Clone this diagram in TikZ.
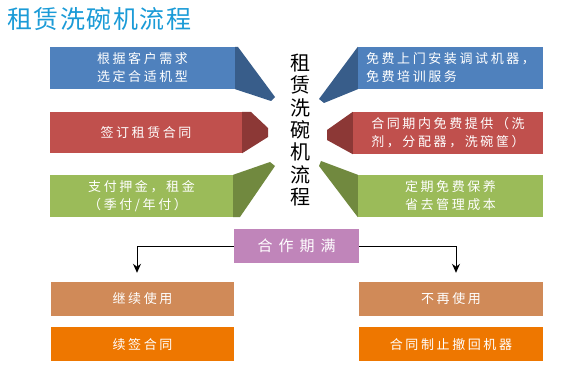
\documentclass[tikz,border=0pt]{standalone}
\usepackage{fontspec}
\setmainfont{Noto Sans CJK SC}
\newfontfamily\boxfont[LetterSpace=20]{Noto Sans CJK SC}
\newfontfamily\widefont[LetterSpace=40]{Noto Sans CJK SC}
\newfontfamily\headfont[LetterSpace=6]{Noto Sans CJK SC}
\usetikzlibrary{positioning,arrows.meta}
\definecolor{titleblue}{HTML}{1B9BD7}
\definecolor{ribbonbluefill}{HTML}{4F81BD}
\definecolor{ribbonblueedge}{HTML}{385D8A}
\definecolor{ribbonredfill}{HTML}{C0504D}
\definecolor{ribbonrededge}{HTML}{8C3836}
\definecolor{ribbongreenfill}{HTML}{9BBB59}
\definecolor{ribbongreenedge}{HTML}{71893F}
\definecolor{endpurple}{HTML}{C085BA}
\definecolor{endtan}{HTML}{D08A58}
\definecolor{endorange}{HTML}{EE7700}

\begin{document}
\begin{tikzpicture}[
  x=1pt, y=-1pt,
  >={Stealth[length=9pt,width=8pt]},
  node distance=11pt,
  ribbon/.style={inner sep=0pt, minimum height=42pt, align=center, text=white, font=\boxfont\fontsize{13}{18}\selectfont},
  outcome/.style={inner sep=0pt, minimum width=184pt, minimum height=34pt, text=white, font=\boxfont\fontsize{13}{18}\selectfont},
  flow/.style={->, line width=0.9pt, draw=black, shorten >=9pt}
]
  \useasboundingbox (0,0) rectangle (565,382);
  \node[anchor=west, text=titleblue, inner sep=0pt, font=\headfont\fontsize{25}{28}\selectfont] (title) at (7,19) {租赁洗碗机流程};
  \node[ribbon, fill=ribbonbluefill, minimum width=185pt] (lblue) at (142.5,68) {根据客户需求\\选定合适机型};
  \node[ribbon, fill=ribbonredfill, minimum width=192pt, minimum height=41pt] (lred) at (146,132.5) {签订租赁合同};
  \node[ribbon, fill=ribbongreenfill, minimum width=183pt, align=left] (lgreen) at (141.5,196) {支付押金，租金\\（季付/年付）};
  \node[ribbon, fill=ribbonbluefill, minimum width=185pt, align=left] (rblue) at (450.5,68) {免费上门安装调试机器，\\免费培训服务};
  \node[ribbon, fill=ribbonredfill, minimum width=190pt, align=left] (rred) at (448,133) {合同期内免费提供（洗\\剂，分配器，洗碗筐）};
  \node[ribbon, fill=ribbongreenfill, minimum width=185pt] (rgreen) at (450.5,196) {定期免费保养\\省去管理成本};
  \node[inner sep=0pt, align=center, font=\fontsize{20}{22.3}\selectfont] (core) at (300,130) {租\\赁\\洗\\碗\\机\\流\\程};
  \fill[ribbonblueedge] (lblue.north east) -- (238,47) -- (275,97) -- (271,101) -- (lblue.south east) -- cycle;
  \fill[ribbonrededge] (lred.north east) -- (251,112) -- (268,128) -- (268,137) -- (lred.south east) -- cycle;
  \fill[ribbongreenedge] (lgreen.north east) -- (270,162) -- (275,166) -- (240,217) -- (lgreen.south east) -- cycle;
  \fill[ribbonblueedge] (rblue.north west) -- (319,99) -- (324,103) -- (rblue.south west) -- cycle;
  \fill[ribbonrededge] (rred.north west) -- (327,130) -- (327,140) -- (rred.south west) -- cycle;
  \fill[ribbongreenedge] (rgreen.north west) -- (321,161) -- (319,166) -- (rgreen.south west) -- cycle;
  \node[fill=endpurple, text=white, inner sep=0pt, minimum width=125pt, minimum height=34pt, font=\widefont\fontsize{15}{18}\selectfont] (expire) at (296.5,246) {合作期满};
  \node[outcome, fill=endtan, minimum width=183pt] (keep) at (142.5,299) {继续使用};
  \node[outcome, fill=endorange, minimum width=183pt, below=of keep] (renew) {续签合同};
  \node[outcome, fill=endtan] (quit) at (451,299) {不再使用};
  \node[outcome, fill=endorange, below=of quit] (recall) {合同制止撤回机器};
  \draw[flow] (expire.west) -| ([xshift=-5.5pt]keep.north);
  \draw[flow] (expire.east) -| ([xshift=5pt]quit.north);
\end{tikzpicture}
\end{document}
